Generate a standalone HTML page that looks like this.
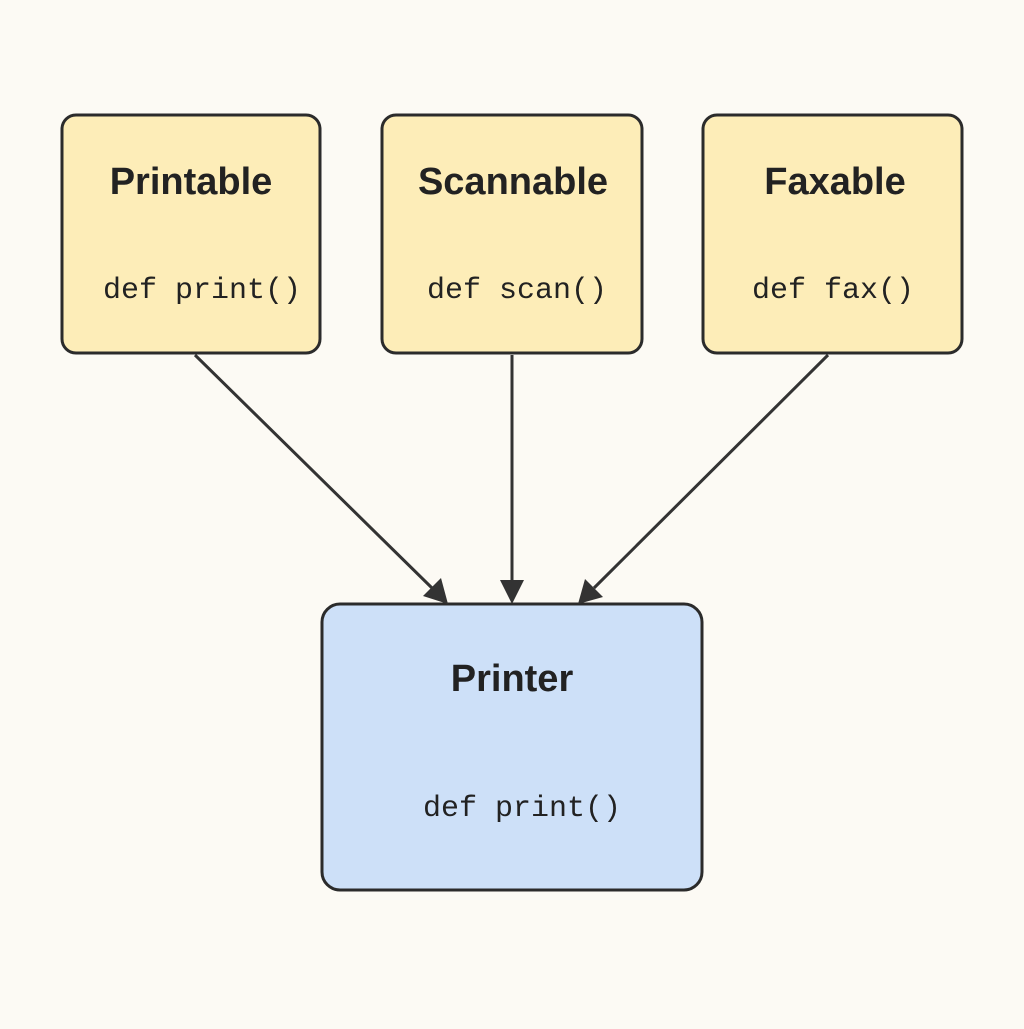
<!DOCTYPE html>
<html><head><meta charset="utf-8"><style>
html,body{margin:0;padding:0;background:#fcfaf4;}
</style></head><body>
<svg width="1024" height="1024" xmlns="http://www.w3.org/2000/svg">
<rect width="1024" height="1024" fill="#fcfaf4"/>
<g stroke="#2b2b2b" stroke-width="3" fill="#fdedb8">
<rect x="62" y="115" width="258" height="238" rx="14"/>
<rect x="382" y="115" width="260" height="238" rx="14"/>
<rect x="703" y="115" width="259" height="238" rx="14"/>
<rect x="322" y="604" width="380" height="286" rx="18" fill="#cde0f8"/>
</g>
<g stroke="#333" stroke-width="3">
<line x1="195" y1="355" x2="432" y2="588"/>
<line x1="512" y1="355" x2="512" y2="580"/>
<line x1="828" y1="355" x2="594" y2="588"/>
</g>
<g fill="#333">
<polygon points="448,604 423,596 441,578"/>
<polygon points="512,604 500,580 524,580"/>
<polygon points="578,604 585,579 603,597"/>
</g>
<g font-family="Liberation Sans, sans-serif" font-weight="bold" font-size="38" fill="#222" text-anchor="middle">
<text x="191" y="194">Printable</text>
<text x="513" y="194">Scannable</text>
<text x="835" y="194">Faxable</text>
<text x="512" y="691">Printer</text>
</g>
<g font-family="Liberation Mono, monospace" font-size="30" fill="#222" text-anchor="middle">
<text x="202" y="298">def print()</text>
<text x="517" y="298">def scan()</text>
<text x="833" y="298">def fax()</text>
<text x="522" y="816">def print()</text>
</g>
</svg>
</body></html>
